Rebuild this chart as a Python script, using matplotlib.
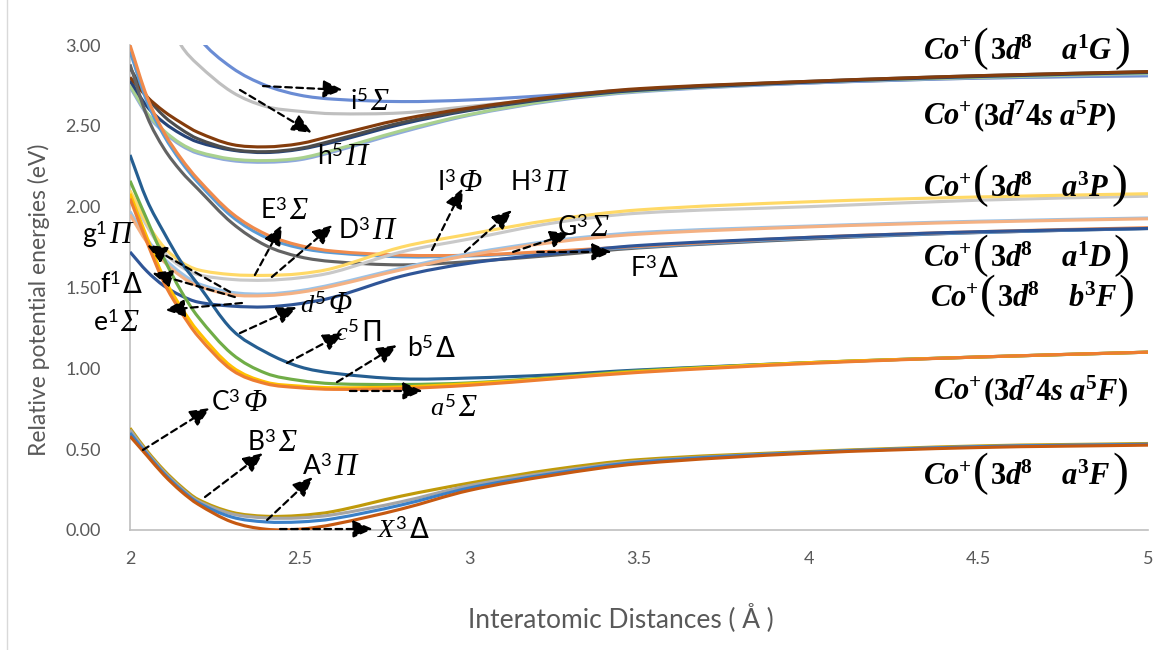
import numpy as np
import matplotlib.pyplot as plt
from matplotlib.lines import Line2D
from matplotlib.path import Path
from matplotlib.patches import PathPatch

plt.rcParams['font.family'] = ['Lato', 'DejaVu Sans']
plt.rcParams['mathtext.fontset'] = 'custom'
plt.rcParams['mathtext.rm'] = 'Lato'
plt.rcParams['mathtext.it'] = 'Liberation Serif:italic'
plt.rcParams['mathtext.bf'] = 'Liberation Serif:bold'
plt.rcParams['mathtext.bfit'] = 'Liberation Serif:bold:italic'

# interatomic distance grid (Angstrom)
r = [2.0, 2.05, 2.1, 2.15, 2.2, 2.3, 2.4, 2.5, 2.6, 2.8, 3.0, 3.25, 3.5, 4.0, 4.5, 5.0]

# Co+(3d8 a3F) limit
X3D = [0.58, 0.46, 0.34, 0.24, 0.16, 0.05, 0.005, 0.005, 0.035, 0.13, 0.245, 0.34, 0.41, 0.475, 0.51, 0.525]
A3P = [0.60, 0.47, 0.35, 0.25, 0.17, 0.08, 0.05, 0.05, 0.07, 0.155, 0.26, 0.35, 0.42, 0.48, 0.515, 0.53]
B3S = [0.62, 0.48, 0.36, 0.26, 0.18, 0.10, 0.075, 0.075, 0.095, 0.175, 0.275, 0.36, 0.425, 0.48, 0.515, 0.53]
C3F = [0.63, 0.49, 0.37, 0.27, 0.19, 0.11, 0.085, 0.09, 0.115, 0.21, 0.29, 0.375, 0.435, 0.485, 0.52, 0.535]

# Co+(3d7 4s a5F) limit
a5S = [2.05, 1.78, 1.53, 1.35, 1.20, 0.99, 0.905, 0.88, 0.87, 0.875, 0.895, 0.935, 0.975, 1.03, 1.07, 1.10]
a5x = [2.08, 1.81, 1.56, 1.38, 1.23, 1.01, 0.915, 0.89, 0.88, 0.885, 0.905, 0.94, 0.98, 1.035, 1.07, 1.10]
b5D = [2.16, 1.92, 1.68, 1.48, 1.32, 1.09, 0.97, 0.925, 0.905, 0.90, 0.91, 0.945, 0.985, 1.035, 1.07, 1.10]
c5P = [2.32, 2.04, 1.84, 1.66, 1.52, 1.24, 1.10, 1.01, 0.97, 0.935, 0.94, 0.96, 0.99, 1.035, 1.07, 1.10]

# a1D / b3F limits
e1S = [1.72, 1.60, 1.51, 1.45, 1.41, 1.385, 1.38, 1.40, 1.44, 1.57, 1.65, 1.71, 1.76, 1.81, 1.845, 1.865]
f1D = [1.95, 1.78, 1.66, 1.57, 1.51, 1.455, 1.45, 1.47, 1.51, 1.61, 1.70, 1.78, 1.83, 1.875, 1.905, 1.925]
g1P = [1.97, 1.80, 1.68, 1.59, 1.525, 1.47, 1.46, 1.48, 1.52, 1.62, 1.71, 1.79, 1.84, 1.88, 1.91, 1.93]
D3P = [3.00, 2.68, 2.46, 2.30, 2.17, 1.96, 1.83, 1.76, 1.725, 1.70, 1.70, 1.725, 1.755, 1.81, 1.845, 1.87]
F3D = [2.96, 2.65, 2.44, 2.28, 2.15, 1.94, 1.81, 1.745, 1.715, 1.69, 1.695, 1.72, 1.75, 1.805, 1.84, 1.865]
G3S = [2.88, 2.56, 2.36, 2.22, 2.11, 1.90, 1.76, 1.69, 1.66, 1.64, 1.66, 1.70, 1.745, 1.80, 1.84, 1.865]

# a3P limit
E3S = [2.10, 1.90, 1.75, 1.66, 1.61, 1.58, 1.575, 1.585, 1.62, 1.75, 1.83, 1.92, 1.98, 2.03, 2.06, 2.08]
I3F = [2.08, 1.88, 1.72, 1.63, 1.58, 1.55, 1.545, 1.56, 1.595, 1.72, 1.80, 1.90, 1.96, 2.00, 2.04, 2.065]

# a5P / a1G limits
h5a = [2.80, 2.68, 2.59, 2.52, 2.46, 2.385, 2.37, 2.39, 2.44, 2.54, 2.61, 2.68, 2.73, 2.775, 2.81, 2.835]
h5b = [2.86, 2.68, 2.56, 2.48, 2.42, 2.355, 2.34, 2.36, 2.41, 2.52, 2.60, 2.675, 2.725, 2.775, 2.81, 2.835]
h5c = [2.78, 2.62, 2.52, 2.45, 2.40, 2.35, 2.335, 2.355, 2.40, 2.51, 2.595, 2.67, 2.72, 2.77, 2.805, 2.83]
h5d = [2.75, 2.58, 2.47, 2.39, 2.34, 2.295, 2.285, 2.30, 2.35, 2.47, 2.57, 2.66, 2.715, 2.77, 2.80, 2.825]
h5e = [2.74, 2.57, 2.46, 2.38, 2.33, 2.285, 2.275, 2.29, 2.34, 2.46, 2.565, 2.655, 2.71, 2.765, 2.80, 2.82]
i5S = [4.0, 3.70, 3.45, 3.25, 3.05, 2.86, 2.75, 2.69, 2.665, 2.65, 2.66, 2.69, 2.725, 2.765, 2.795, 2.81]
i5x = [3.75, 3.48, 3.22, 3.00, 2.88, 2.71, 2.62, 2.59, 2.575, 2.58, 2.62, 2.67, 2.715, 2.765, 2.795, 2.81]

curves = [
    (i5x, '#BFBFBF'), (i5S, '#6A8CD4'),
    (h5e, '#8FAADC'), (h5d, '#A9D18E'), (h5c, '#264478'), (h5b, '#4D4D4D'), (h5a, '#843C0C'),
    (G3S, '#636363'), (F3D, '#5B9BD5'), (D3P, '#F08A4B'),
    (I3F, '#C9C9C9'), (E3S, '#FFD966'),
    (e1S, '#2F5597'), (g1P, '#9DC3E6'), (f1D, '#F4B183'),
    (c5P, '#255E91'), (b5D, '#70AD47'), (a5x, '#FFC000'), (a5S, '#ED7D31'),
    (C3F, '#C09A0A'), (B3S, '#A5A5A5'), (A3P, '#3A80C8'), (X3D, '#C65911'),
]


def smooth_path(xs, ys):
    # smoothed line through the points (cubic Hermite segments, like Excel's smoothing)
    xs = np.asarray(xs, float)
    ys = np.asarray(ys, float)
    n = len(xs)
    m = np.empty(n)
    m[0] = (ys[1] - ys[0]) / (xs[1] - xs[0])
    m[-1] = (ys[-1] - ys[-2]) / (xs[-1] - xs[-2])
    m[1:-1] = (ys[2:] - ys[:-2]) / (xs[2:] - xs[:-2])
    verts = [(xs[0], ys[0])]
    codes = [Path.MOVETO]
    for i in range(n - 1):
        h = xs[i + 1] - xs[i]
        verts += [(xs[i] + h / 3, ys[i] + m[i] * h / 3),
                  (xs[i + 1] - h / 3, ys[i + 1] - m[i + 1] * h / 3),
                  (xs[i + 1], ys[i + 1])]
        codes += [Path.CURVE4] * 3
    return Path(verts, codes)


fig = plt.figure(figsize=(11.76, 6.5), dpi=100)
ax = fig.add_axes([130/1176, 120/650, 1018/1176, 485/650])

for y, c in curves:
    ax.add_patch(PathPatch(smooth_path(r, y), fill=False, edgecolor=c, lw=2.25,
                           joinstyle='round', capstyle='butt'))

ax.set_xlim(2, 5)
ax.set_ylim(0, 3)
ax.set_xticks([2, 2.5, 3, 3.5, 4, 4.5, 5])
ax.set_xticklabels(['2', '2.5', '3', '3.5', '4', '4.5', '5'])
ax.set_yticks(np.arange(0, 3.01, 0.5))
ax.set_yticklabels(['%.2f' % v for v in np.arange(0, 3.01, 0.5)])
ax.tick_params(length=0, labelsize=13, labelcolor='#595959')
ax.tick_params(axis='y', pad=21)
ax.tick_params(axis='x', pad=15)
for s in ['top', 'right']:
    ax.spines[s].set_visible(False)
for s in ['left', 'bottom']:
    ax.spines[s].set_color('#BFBFBF')
    ax.spines[s].set_linewidth(1.2)
    ax.spines[s].set_zorder(0.5)

ax.set_xlabel('Interatomic Distances ( Å )', fontsize=19, color='#595959')
ax.xaxis.set_label_coords((621 - 130) / 1018, -(603 - 530) / 485)
ax.set_ylabel('Relative potential energies (eV)', fontsize=16.5, color='#595959')
ax.yaxis.set_label_coords(-(130 - 50) / 1018, (530 - 300) / 485)

FS = 19


def darrow(x0, y0, x1, y1):
    ax.annotate('', xy=(x1, y1), xytext=(x0, y0), annotation_clip=False,
                arrowprops=dict(arrowstyle='-|>,head_length=0.8,head_width=0.35',
                                lw=1.6, ls=(0, (3, 2)), color='k',
                                shrinkA=0, shrinkB=0, mutation_scale=15))


def chain(x, y, parts, gap=0):
    # place text pieces one after another on a common baseline
    prev = None
    for s, kw in parts:
        if prev is None:
            prev = ax.text(x, y, s, va='baseline', ha='left', **kw)
        else:
            prev = ax.annotate(s, xy=(1, y), xycoords=(prev, 'data'),
                               xytext=(gap, 0), textcoords='offset points',
                               va='baseline', ha='left', annotation_clip=False, **kw)


def state(x, y, main, greek, italic=True):
    if italic:
        gk = dict(fontsize=FS + 3, family='Liberation Serif', style='italic')
    else:
        gk = dict(fontsize=FS + 1, family='DejaVu Sans')
    chain(x, y, [(main, dict(fontsize=FS)), (greek, gk)], gap=1.5)


# state labels with their arrows
darrow(2.392, 2.746, 2.628, 2.722); state(2.648, 2.598, 'i$^5$', 'Σ')
darrow(2.324, 2.722, 2.536, 2.456); state(2.551, 2.258, 'h$^5$', 'Π')
darrow(2.368, 1.577, 2.448, 1.887); state(2.383, 1.924, 'E$^3$', 'Σ')
darrow(2.418, 1.565, 2.598, 1.887); state(2.613, 1.800, 'D$^3$', 'Π')
darrow(2.890, 1.732, 2.981, 2.115); state(2.905, 2.097, 'I$^3$', 'Φ')
darrow(2.987, 1.720, 3.126, 1.979); state(3.120, 2.097, 'H$^3$', 'Π')
darrow(3.129, 1.720, 3.297, 1.837); state(3.258, 1.818, 'G$^3$', 'Σ')
darrow(3.200, 1.720, 3.420, 1.720); state(3.474, 1.565, 'F$^3$', 'Δ', italic=False)
darrow(2.295, 1.472, 2.050, 1.763); state(1.859, 1.775, 'g$^1$', 'Π')
darrow(2.309, 1.441, 2.065, 1.590); state(1.912, 1.466, 'f$^1$', 'Δ', italic=False)
darrow(2.330, 1.404, 2.103, 1.361); state(1.890, 1.231, 'e$^1$', 'Σ')
darrow(2.324, 1.218, 2.492, 1.379); state(2.500, 1.342, r'$\mathit{d}^5$', 'Φ')
darrow(2.463, 1.033, 2.628, 1.218); state(2.604, 1.169, r'$\mathit{c}^5$', 'Π', italic=False)
darrow(2.610, 0.915, 2.787, 1.144); state(2.816, 1.070, 'b$^5$', 'Δ', italic=False)
darrow(2.648, 0.860, 2.863, 0.860); state(2.884, 0.705, r'$\mathit{a}^5$', 'Σ')
darrow(2.038, 0.495, 2.236, 0.755); state(2.240, 0.736, 'C$^3$', 'Φ')
darrow(2.221, 0.204, 2.392, 0.476); state(2.345, 0.489, 'B$^3$', 'Σ')
darrow(2.404, 0.062, 2.539, 0.328); state(2.507, 0.340, 'A$^3$', 'Π')
darrow(2.442, 0.006, 2.716, 0.006); state(2.728, -0.050, r'$\mathit{X}^3$', 'Δ', italic=False)

# dissociation limits
LF = dict(fontsize=22)
PF = dict(fontsize=34, family='Liberation Serif')
co = r'$\mathbfit{Co}^{\mathbf{+}}$'


def d8(term, sup, a='a'):
    return (r'$\mathbf{3}\mathbfit{d}^{\mathbf{8}}\ \ \ \ \mathbfit{%s}^{\mathbf{%s}}\mathbfit{%s}$'
            % (a, sup, term))


def d7(term):
    return (r'$\mathbf{(3}\mathbfit{d}^{\mathbf{7}}\mathbf{4}\mathbfit{s}\ \mathbfit{a}^{\mathbf{5}}'
            r'\mathbfit{%s}\mathbf{)}$' % term)


chain(4.337, 2.907, [(co, LF), ('(', PF), (d8('G', '1'), LF), (')', PF)], gap=1)
chain(4.337, 2.505, [(co, LF), (d7('P'), LF)], gap=1)
chain(4.337, 2.060, [(co, LF), ('(', PF), (d8('P', '3'), LF), (')', PF)], gap=1)
chain(4.337, 1.627, [(co, LF), ('(', PF), (d8('D', '1'), LF), (')', PF)], gap=1)
chain(4.357, 1.379, [(co, LF), ('(', PF), (d8('F', '3', 'b'), LF), (')', PF)], gap=1)
chain(4.366, 0.804, [(co, LF), (d7('F'), LF)], gap=1)
chain(4.337, 0.278, [(co, LF), ('(', PF), (d8('F', '3'), LF), (')', PF)], gap=1)

fig.add_artist(Line2D([7 / 1176, 7 / 1176], [0, 1], color='#D9D9D9', lw=1))

fig.savefig('out.png', dpi=100)
